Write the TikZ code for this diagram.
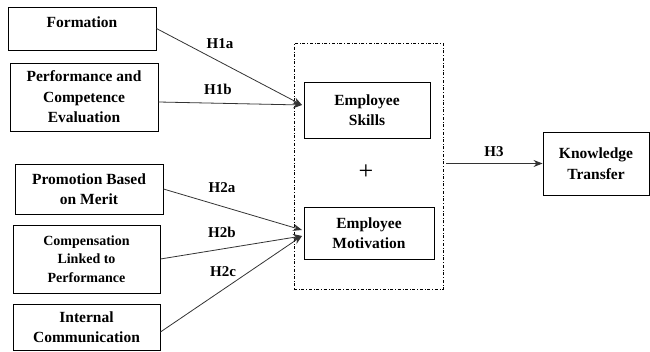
\documentclass[tikz,border=0pt]{standalone}
\usepackage{fontspec}
\setmainfont{Liberation Serif}
\usepackage{tikz}
\usetikzlibrary{arrows.meta}
\newcommand{\harw}{-{Stealth[length=9pt,width=7pt]}}
\tikzset{
  varbox/.style={draw, line width=0.9pt, align=center, font=\fontsize{15.5}{20.5}\selectfont\bfseries, inner sep=0pt},
  hyp/.style={font=\fontsize{15}{16}\selectfont\bfseries, inner sep=1pt},
  link/.style={draw=black!80, line width=0.8pt}
}

\begin{document}
\begin{tikzpicture}[x=1pt,y=-1pt]
\useasboundingbox (0,0) rectangle (650,352);
%antecedents
\node[varbox, minimum width=148pt, minimum height=43pt, text depth=13pt] (form) at (82,28.5) {Formation};
\node[varbox, minimum width=148pt, minimum height=68pt] (perf) at (84,97) {Performance and\\Competence\\Evaluation};
\node[varbox, minimum width=148pt, minimum height=50pt] (promo) at (89,189) {Promotion Based\\on Merit};
\node[varbox, minimum width=147pt, minimum height=68pt, font=\fontsize{14}{18.5}\selectfont\bfseries] (comp) at (86.5,259) {Compensation\\Linked to\\Performance};
\node[varbox, minimum width=147pt, minimum height=46pt] (intcomm) at (86.5,327) {Internal\\Communication};
%mediators
\node[draw, dash dot, line width=0.6pt, minimum width=149pt, minimum height=246pt] (grp) at (368.5,166) {};
\node[varbox, minimum width=126pt, minimum height=56pt] (skills) at (367,110) {Employee\\Skills};
\node[font=\fontsize{26}{26}\selectfont] (plus) at (366,172) {+};
\node[varbox, minimum width=130pt, minimum height=52pt] (motiv) at (369,233) {Employee\\Motivation};
%outcome
\node[varbox, minimum width=106pt, minimum height=63pt] (know) at (596,163.5) {Knowledge\\Transfer};
\coordinate (skin) at (302,105);
\coordinate (moina) at (302,230);
\coordinate (moinb) at (302,236);
\coordinate (grpout) at ([xshift=3pt]grp.east |- know.west);
\draw[link,\harw] (form.east) -- (skin);
\draw[link,\harw] ([yshift=-5pt]perf.east) -- (skin);
\draw[link,\harw] (promo.east) -- (moina);
\draw[link,\harw] (comp.east) -- (moinb);
\draw[link,\harw] ([yshift=-5pt]intcomm.east) -- (moinb);
\draw[link,\harw] (grpout) -- (know.west);
\node[hyp] (h1a) at (220,44) {H1a};
\node[hyp] (h1b) at (218,89) {H1b};
\node[hyp] (h2a) at (222,188) {H2a};
\node[hyp] (h2b) at (222,232) {H2b};
\node[hyp] (h2c) at (223,272) {H2c};
\node[hyp] (h3) at (494,152) {H3};
\end{tikzpicture}
\end{document}
